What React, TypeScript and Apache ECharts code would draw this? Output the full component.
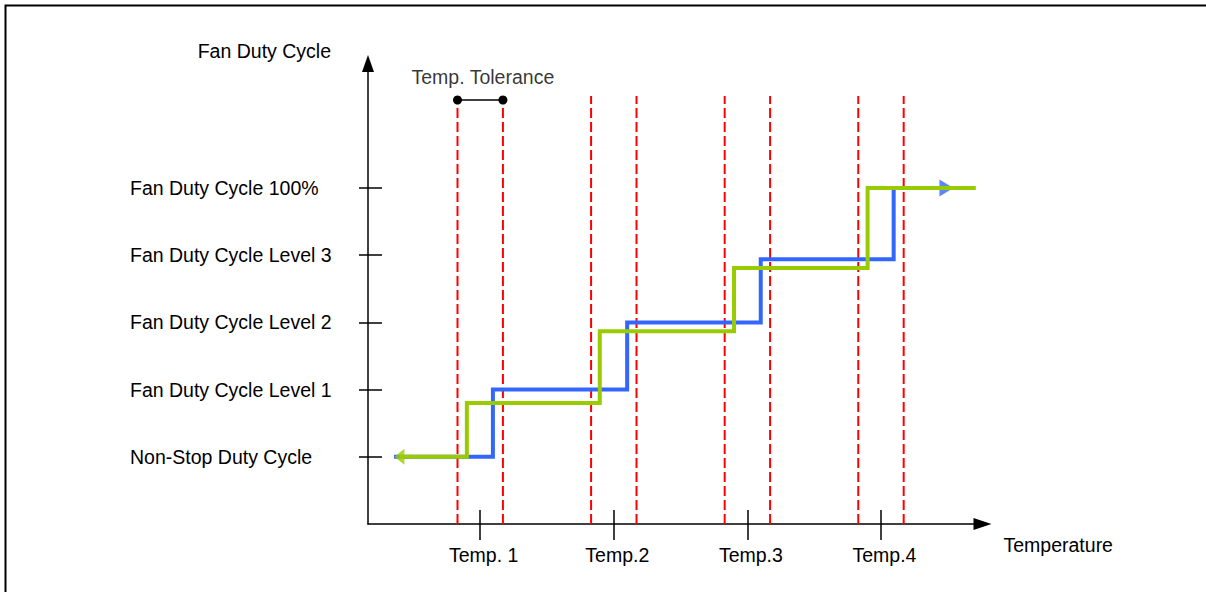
import React, { useEffect, useRef } from "react";
import * as echarts from "echarts";

// ---- data ----
const temps = [16.8, 36.8, 56.8, 76.8];
const tempLabels = ["Temp. 1", "Temp.2", "Temp.3", "Temp.4"];
const tolerance = 3.4;
const levelValues = [1, 2, 3, 4, 5];
const levelLabels = [
  "Non-Stop Duty Cycle",
  "Fan Duty Cycle Level 1",
  "Fan Duty Cycle Level 2",
  "Fan Duty Cycle Level 3",
  "Fan Duty Cycle 100%",
];
const blueX = [3.9, 18.7, 38.8, 58.8, 78.7, 86.6];
const blueY = [1, 2, 3, 3.94, 5, 5];
const greenX = [4.7, 14.8, 34.7, 54.8, 74.8, 91];
const greenY = [1, 1.8, 2.87, 3.81, 5, 5];
const guideTops = [6.31, 6.37, 6.37, 6.37];
const markerY = 6.31;
const X_MAX = 92;
const Y_MAX = 6.853;

const FONT = "'Liberation Sans', Arial, Helvetica, sans-serif";
const BLUE = "#3366ff";
const GREEN = "#99cc00";
const RED = "#ff0000";

function labelAt(values: number[], labels: string[], v: number) {
  const i = values.findIndex((t) => Math.abs(t - v) < 1e-6);
  return i >= 0 ? labels[i] : "";
}

function buildOption() {
  const guideSeries: any[] = [];
  temps.forEach((t, i) => {
    [t - tolerance, t + tolerance].forEach((x) => {
      guideSeries.push({
        type: "line",
        silent: true,
        symbol: "none",
        data: [
          [x, 0],
          [x, guideTops[i]],
        ],
        lineStyle: { color: RED, width: 2, type: [10, 4] },
        z: 1,
      });
    });
  });

  const text = { color: "#000", fontSize: 19.5, fontFamily: FONT, lineHeight: 20 };

  return {
    animation: false,
    backgroundColor: "#fff",
    grid: {
      left: 368,
      right: 223.5,
      top: 63.5,
      bottom: 68,
      containLabel: false,
      outerBoundsMode: "none",
    },
    xAxis: [
      {
        type: "value",
        min: 0,
        max: X_MAX,
        position: "bottom",
        axisLine: {
          show: true,
          onZero: false,
          symbol: ["none", "triangle"],
          symbolSize: [12, 18],
          lineStyle: { color: "#000", width: 1.5 },
        },
        axisTick: {
          show: true,
          inside: true,
          length: 14,
          customValues: temps,
          lineStyle: { color: "#000", width: 1.5 },
        },
        axisLabel: {
          show: true,
          customValues: temps,
          formatter: (v: number) => labelAt(temps, tempLabels, v),
          margin: 21,
          padding: [0, 0, 0, 7],
          ...text,
        },
        splitLine: { show: false },
        name: "Temperature",
        nameLocation: "end",
        nameGap: 21,
        nameTextStyle: {
          ...text,
          align: "left",
          verticalAlign: "top",
          padding: [11, 0, 0, 0],
        },
      },
      {
        type: "value",
        min: 0,
        max: X_MAX,
        position: "bottom",
        axisLine: { show: false },
        axisTick: {
          show: true,
          inside: false,
          length: 16,
          customValues: temps,
          lineStyle: { color: "#000", width: 1.5 },
        },
        axisLabel: { show: false },
        splitLine: { show: false },
      },
    ],
    yAxis: [
      {
        type: "value",
        min: 0,
        max: Y_MAX,
        position: "left",
        axisLine: {
          show: true,
          onZero: false,
          symbol: ["none", "triangle"],
          symbolSize: [12, 17],
          lineStyle: { color: "#000", width: 1.5 },
        },
        axisTick: {
          show: true,
          inside: true,
          length: 14,
          customValues: levelValues,
          lineStyle: { color: "#000", width: 1.5 },
        },
        axisLabel: {
          show: true,
          customValues: levelValues,
          formatter: (v: number) => labelAt(levelValues, levelLabels, v),
          margin: 238,
          align: "left",
          ...text,
        },
        splitLine: { show: false },
        name: "Fan Duty Cycle",
        nameLocation: "end",
        nameGap: 12.5,
        nameTextStyle: {
          ...text,
          align: "right",
          verticalAlign: "middle",
          padding: [0, 37, 0, 0],
        },
      },
      {
        type: "value",
        min: 0,
        max: Y_MAX,
        position: "left",
        axisLine: { show: false },
        axisTick: {
          show: true,
          inside: false,
          length: 9,
          customValues: levelValues,
          lineStyle: { color: "#000", width: 1.5 },
        },
        axisLabel: { show: false },
        splitLine: { show: false },
      },
    ],
    graphic: [
      {
        type: "polyline",
        silent: true,
        shape: {
          points: [
            [5.5, 800],
            [5.5, 5.5],
            [1400, 5.5],
          ],
        },
        style: { fill: "none", stroke: "#000", lineWidth: 2 },
        z: 100,
      },
    ],
    series: [
      ...guideSeries,
      {
        type: "line",
        name: "blue",
        step: "end",
        symbol: "none",
        data: blueX.map((x, i) => [x, blueY[i]]),
        lineStyle: { color: BLUE, width: 4, join: "miter", cap: "butt" },
        z: 2,
      },
      {
        type: "scatter",
        symbol: "triangle",
        symbolRotate: -90,
        symbolSize: [17, 14],
        data: [[blueX[blueX.length - 1], blueY[blueY.length - 1]]],
        itemStyle: { color: BLUE },
        z: 2,
      },
      {
        type: "line",
        name: "green",
        step: "end",
        symbol: "none",
        data: greenX.map((x, i) => [x, greenY[i]]),
        lineStyle: { color: GREEN, width: 4, join: "miter", cap: "butt" },
        z: 3,
      },
      {
        type: "scatter",
        symbol: "triangle",
        symbolRotate: 90,
        symbolSize: [16, 10],
        data: [[greenX[0], greenY[0]]],
        itemStyle: { color: GREEN },
        z: 3,
      },
      {
        type: "line",
        symbol: "circle",
        symbolSize: 9,
        showSymbol: true,
        data: [
          [temps[0] - tolerance, markerY],
          [temps[0] + tolerance, markerY],
        ],
        itemStyle: { color: "#000" },
        lineStyle: { color: "#000", width: 1.5 },
        z: 4,
      },
      {
        type: "scatter",
        symbolSize: 1,
        itemStyle: { color: "rgba(0,0,0,0)" },
        data: [[temps[0] + 0.4, markerY]],
        label: {
          show: true,
          position: "top",
          distance: 12,
          formatter: "Temp. Tolerance",
          ...text,
        },
        z: 4,
      },
    ],
  };
}

export default function App() {
  const ref = useRef<HTMLDivElement>(null);
  useEffect(() => {
    if (!ref.current) return;
    const chart = echarts.init(ref.current, undefined, { renderer: "svg" });
    chart.setOption(buildOption() as any);
    return () => chart.dispose();
  }, []);
  return (
    <div
      ref={ref}
      style={{
        position: "fixed",
        left: 0,
        top: 0,
        width: 1206,
        height: 592,
        background: "#fff",
      }}
    />
  );
}
